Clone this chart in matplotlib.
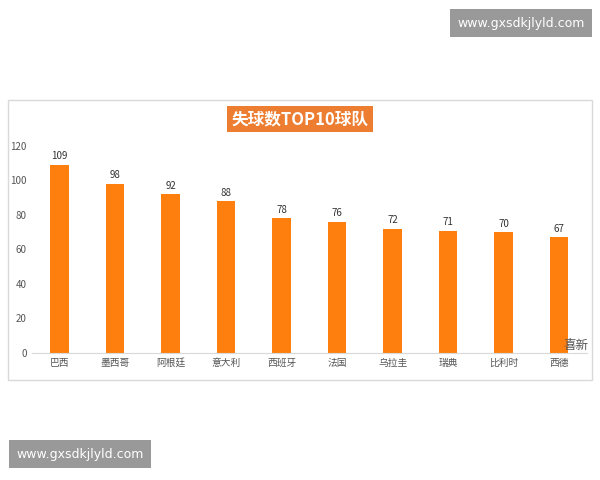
import matplotlib
matplotlib.use("Agg")
import matplotlib.pyplot as plt
from matplotlib.patches import Rectangle

plt.rcParams['font.family'] = ['Noto Sans CJK SC', 'DejaVu Sans']

teams = ['巴西', '墨西哥', '阿根廷', '意大利', '西班牙', '法国', '乌拉圭', '瑞典', '比利时', '西德']
goals = [109, 98, 92, 88, 78, 76, 72, 71, 70, 67]
yticks = [0, 20, 40, 60, 80, 100, 120]

fig = plt.figure(figsize=(6, 4.8), dpi=100)
fig.patch.set_facecolor('white')
fig.patches.append(Rectangle((0.0133, 0.2083), 0.973, 0.583, transform=fig.transFigure,
                             fill=False, edgecolor='#d9d9d9', lw=1))

ax = fig.add_axes([0.053, 0.2646, 0.925, 0.4313])
x = range(len(teams))
bars = ax.bar(x, goals, width=0.33, color='#ff7f0e')
for xi, v in zip(x, goals):
    ax.text(xi, v + 2, str(v), ha='center', va='bottom', fontsize=7, color='#333333')
ax.set_xlim(-0.5, len(teams) - 0.5)
ax.set_ylim(0, 120)
ax.set_yticks(yticks)
ax.set_xticks(list(x))
ax.set_xticklabels(teams)
ax.tick_params(axis='both', length=0, labelsize=7, colors='#555555')
for s in ['top', 'right', 'left']:
    ax.spines[s].set_visible(False)
ax.spines['bottom'].set_color('#d9d9d9')

fig.text(0.5, 0.752, '失球数TOP10球队', ha='center', va='center', fontsize=12,
         fontweight='bold', color='white',
         bbox=dict(boxstyle='square,pad=0.25', facecolor='#ed7d31', edgecolor='none'))

fig.text(0.868, 0.952, 'www.gxsdkjlyld.com', ha='center', va='center', fontsize=9,
         color='white', family='DejaVu Sans',
         bbox=dict(boxstyle='square,pad=0.6', facecolor='#999999', edgecolor='none'))
fig.text(0.133, 0.054, 'www.gxsdkjlyld.com', ha='center', va='center', fontsize=9,
         color='white', family='DejaVu Sans',
         bbox=dict(boxstyle='square,pad=0.6', facecolor='#999999', edgecolor='none'))
fig.text(0.96, 0.28, '喜新', ha='center', va='center', fontsize=9, color='#555555', style='italic')

fig.savefig('out.png', dpi=100)
